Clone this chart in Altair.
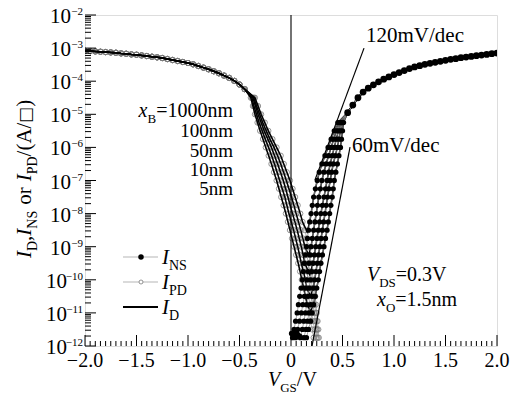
import math
import altair as alt
import pandas as pd

# ---------------- data (log10 of current density, A/□) ----------------
XB_LIST = ["1000nm", "100nm", "50nm", "10nm", "5nm"]

# hole current I_PD, common part (Vgs <= -0.45)
PD_HI_VGS = [-2.00, -1.95, -1.90, -1.85, -1.80, -1.75, -1.70, -1.65, -1.60, -1.55,
             -1.50, -1.45, -1.40, -1.35, -1.30, -1.25, -1.20, -1.15, -1.10, -1.05,
             -1.00, -0.95, -0.90, -0.85, -0.80, -0.75, -0.70, -0.65, -0.60, -0.55,
             -0.50, -0.45]
PD_HI_LOG = [-3.08, -3.09, -3.10, -3.11, -3.12, -3.13, -3.14, -3.16, -3.17, -3.19,
             -3.20, -3.22, -3.24, -3.26, -3.28, -3.30, -3.33, -3.36, -3.39, -3.42,
             -3.45, -3.49, -3.54, -3.59, -3.64, -3.70, -3.76, -3.83, -3.90, -3.99,
             -4.10, -4.24]

# electron current I_NS, common part (Vgs >= 0.55)
NS_HI_VGS = [0.55, 0.60, 0.65, 0.70, 0.75, 0.80, 0.85, 0.90, 0.95, 1.00,
             1.05, 1.10, 1.15, 1.20, 1.25, 1.30, 1.35, 1.40, 1.45, 1.50,
             1.55, 1.60, 1.65, 1.70, 1.75, 1.80, 1.85, 1.90, 1.95, 2.00]
NS_HI_LOG = [-4.95, -4.72, -4.50, -4.33, -4.21, -4.11, -4.02, -3.94, -3.87, -3.80,
             -3.74, -3.68, -3.62, -3.57, -3.53, -3.49, -3.46, -3.43, -3.40, -3.37,
             -3.34, -3.32, -3.29, -3.27, -3.25, -3.23, -3.21, -3.19, -3.17, -3.15]

# subthreshold I_NS: Vgs read at each current level, one list per x_B
NS_LEVELS = [-5.25, -5.5, -5.75, -6.0, -6.25, -6.5, -6.75, -7.0, -7.25, -7.5,
             -7.75, -8.0, -8.25, -8.5, -8.75, -9.0, -9.25, -9.5, -9.75, -10.0,
             -10.25, -10.5, -10.75, -11.0, -11.25, -11.5, -11.75]
NS_VGS = [
    [0.455, 0.42, 0.39, 0.36, 0.33, 0.30, 0.275, 0.255, 0.237, 0.22, 0.207, 0.195, 0.182, 0.17,
     0.16, 0.15, 0.14, 0.13, 0.12, 0.11, 0.098, 0.085, 0.072, 0.06, 0.045, 0.03, 0.015],
    [0.47, 0.44, 0.415, 0.39, 0.365, 0.34, 0.32, 0.30, 0.285, 0.27, 0.257, 0.245, 0.232, 0.22,
     0.207, 0.195, 0.185, 0.175, 0.165, 0.155, 0.142, 0.13, 0.115, 0.10, 0.083, 0.065, 0.045],
    [0.485, 0.46, 0.44, 0.42, 0.40, 0.38, 0.365, 0.35, 0.335, 0.32, 0.305, 0.29, 0.277, 0.265,
     0.252, 0.24, 0.227, 0.215, 0.202, 0.19, 0.178, 0.165, 0.152, 0.14, 0.125, 0.11, 0.09],
    [0.50, 0.48, 0.465, 0.45, 0.43, 0.41, 0.395, 0.38, 0.367, 0.355, 0.342, 0.33, 0.317, 0.305,
     0.292, 0.28, 0.267, 0.255, 0.242, 0.23, 0.217, 0.205, 0.19, 0.175, 0.16, 0.145, 0.125],
    [0.51, 0.50, 0.49, 0.48, 0.465, 0.45, 0.435, 0.42, 0.41, 0.40, 0.387, 0.375, 0.362, 0.35,
     0.335, 0.32, 0.305, 0.29, 0.277, 0.265, 0.25, 0.235, 0.22, 0.205, 0.19, 0.17, 0.15],
]

# subthreshold I_PD
PD_LEVELS = [-4.5, -4.75, -5.0, -5.25, -5.5, -5.75, -6.0, -6.25, -6.5, -6.75,
             -7.0, -7.25, -7.5, -7.75, -8.0, -8.25, -8.5, -8.75, -9.0, -9.25,
             -9.5, -9.75, -10.0, -10.25, -10.5, -10.75, -11.0, -11.25, -11.5, -11.75]
PD_VGS = [
    [-0.35, -0.32, -0.29, -0.255, -0.22, -0.18, -0.14, -0.10, -0.07, -0.04, -0.01, 0.015, 0.04,
     0.065, 0.09, 0.112, 0.135, 0.153, 0.17, 0.183, 0.195, 0.205, 0.215, 0.225, 0.235, 0.243,
     0.25, 0.258, 0.265, 0.27],
    [-0.36, -0.335, -0.305, -0.275, -0.24, -0.205, -0.165, -0.13, -0.10, -0.072, -0.045, -0.02,
     0.005, 0.028, 0.05, 0.073, 0.095, 0.115, 0.135, 0.153, 0.17, 0.183, 0.195, 0.208, 0.22,
     0.23, 0.24, 0.248, 0.255, 0.26],
    [-0.37, -0.345, -0.32, -0.29, -0.26, -0.225, -0.19, -0.16, -0.13, -0.102, -0.075, -0.052,
     -0.03, -0.008, 0.015, 0.038, 0.06, 0.08, 0.10, 0.118, 0.135, 0.153, 0.17, 0.185, 0.20,
     0.213, 0.225, 0.235, 0.245, 0.25],
    [-0.38, -0.36, -0.335, -0.31, -0.28, -0.25, -0.218, -0.188, -0.16, -0.135, -0.11, -0.085,
     -0.06, -0.04, -0.02, 0.003, 0.025, 0.045, 0.065, 0.083, 0.10, 0.12, 0.14, 0.155, 0.17,
     0.185, 0.20, 0.215, 0.23, 0.24],
    [-0.39, -0.37, -0.35, -0.325, -0.30, -0.272, -0.245, -0.217, -0.19, -0.165, -0.14, -0.117,
     -0.095, -0.072, -0.05, -0.03, -0.01, 0.01, 0.03, 0.05, 0.07, 0.088, 0.105, 0.123, 0.14,
     0.158, 0.175, 0.19, 0.205, 0.22],
]

# minimum of the total current I_D for each x_B
ID_MIN_VGS = [0.157, 0.172, 0.182, 0.188, 0.19]
ID_MIN_LOG = [-8.55, -9.25, -9.85, -10.5, -10.95]

# noise floor of I_NS near Vgs = 0 and the vertical jump at Vgs = 0
NS_FLOOR_VGS = [0.005, 0.025, 0.045, 0.065, 0.085]
NS_FLOOR_LOG = [-11.62, -11.66, -11.60, -11.65, -11.70]
VLINE_VGS = [0.0, 0.0]
VLINE_LOG = [-11.65, -2.0]

# slope guide lines
S120_VGS = [0.233, 0.709]
S120_LOG = [-6.98, -3.0]
S60_VGS = [0.204, 0.573]
S60_LOG = [-12.0, -5.99]

# axes
X_TICKS = [-2.0, -1.5, -1.0, -0.5, 0.0, 0.5, 1.0, 1.5, 2.0]
X_TICK_LABELS = ["\u22122.0", "\u22121.5", "\u22121.0", "\u22120.5", "0", "0.5", "1.0", "1.5", "2.0"]
Y_EXPS = [-2, -3, -4, -5, -6, -7, -8, -9, -10, -11, -12]

# ---------------- layout ----------------
FONT = "Liberation Serif"
BOX_FONT = "DejaVu Sans"
X0, Y0 = 85, 15
W, H = 412, 331

EM = {'I': 0.333, 'D': 0.722, 'N': 0.722, 'S': 0.556, 'P': 0.556, 'G': 0.722, 'V': 0.722,
      'O': 0.722, 'B': 0.667, 'x': 0.5, ',': 0.25, ' ': 0.25, 'o': 0.5, 'r': 0.333,
      '/': 0.278, '(': 0.333, ')': 0.333, 'A': 0.722, '\u25a1': 0.75, '=': 0.564, '.': 0.25,
      'n': 0.5, 'm': 0.778, 'e': 0.444, 'd': 0.5, 'c': 0.444}
EM_IT = {'V': 0.611, 'x': 0.444, 'I': 0.333}


def width(s, size, italic):
    w = 0.0
    for ch in s:
        if italic and ch in EM_IT:
            w += EM_IT[ch]
        elif ch.isdigit():
            w += 0.5
        else:
            w += EM.get(ch, 0.5)
    return w * size


one = pd.DataFrame({"v": [0]})


def txt(s, x, y, size, italic=False, align="left", baseline="alphabetic", angle=0, font=FONT):
    kw = dict(font=font, fontSize=size, align=align, baseline=baseline, color="black")
    if italic:
        kw["fontStyle"] = "italic"
    if angle:
        kw["angle"] = angle
    return alt.Chart(one).mark_text(**kw).encode(
        x=alt.value(x - X0), y=alt.value(y - Y0), text=alt.value(s))


def rich(pieces, x, y, size=20, sub=13, angle=0, right=False):
    """pieces: (text, kind); kind 'i' italic, 'n' normal, 's' subscript, 'b' box glyph,
    'g' gap (text = px)."""
    def adv(t, k):
        if k == "g":
            return float(t)
        return width(t, sub if k == "s" else size, k == "i")

    def fsz(k):
        return sub if k == "s" else (size * 0.8 if k == "b" else size)

    total = sum(adv(t, k) for t, k in pieces)
    out = []
    drop = 0.3 * size
    if angle == 270:
        cur = y
        for t, k in pieces:
            if k != "g":
                out.append(txt(t, x + (drop if k == "s" else 0), cur, fsz(k), italic=(k == "i"),
                               angle=270, font=BOX_FONT if k == "b" else FONT))
            cur -= adv(t, k)
        return out
    cur = (x - total) if right else x
    for t, k in pieces:
        if k != "g":
            out.append(txt(t, cur, y + (drop if k == "s" else 0), fsz(k), italic=(k == "i"),
                           font=BOX_FONT if k == "b" else FONT))
        cur += adv(t, k)
    return out


# ---------------- build tables ----------------
xs = alt.Scale(domain=[-2, 2], nice=False, zero=False)
ys = alt.Scale(domain=[-12, -2], nice=False, zero=False)


def X():
    return alt.X("vgs:Q", scale=xs, axis=None)


def Y():
    return alt.Y("lg:Q", scale=ys, axis=None)


ns_rows, pd_rows, id_rows = [], [], []
for k, xb in enumerate(XB_LIST):
    o = 0
    for v, l in list(zip(NS_VGS[k], NS_LEVELS))[::-1]:
        ns_rows.append(dict(curve=xb, vgs=v, lg=l, o=o, part="low")); o += 1
    for v, l in zip(NS_HI_VGS, NS_HI_LOG):
        ns_rows.append(dict(curve=xb, vgs=v, lg=l, o=o, part="high")); o += 1
    o = 0
    for v, l in zip(PD_HI_VGS, PD_HI_LOG):
        pd_rows.append(dict(curve=xb, vgs=v, lg=l, o=o)); o += 1
    for v, l in zip(PD_VGS[k], PD_LEVELS):
        pd_rows.append(dict(curve=xb, vgs=v, lg=l, o=o)); o += 1
    pts = list(zip(PD_HI_VGS, PD_HI_LOG))
    pts += [(v, l) for v, l in zip(PD_VGS[k], PD_LEVELS) if l > ID_MIN_LOG[k] + 0.15]
    pts += [(ID_MIN_VGS[k], ID_MIN_LOG[k])]
    pts += [(v, l) for v, l in list(zip(NS_VGS[k], NS_LEVELS))[::-1] if l > ID_MIN_LOG[k] + 0.15]
    pts += list(zip(NS_HI_VGS, NS_HI_LOG))
    for i, (v, l) in enumerate(pts):
        id_rows.append(dict(curve=xb, vgs=v, lg=l, o=i))

ns_df = pd.DataFrame(ns_rows)
pd_df = pd.DataFrame(pd_rows)
id_df = pd.DataFrame(id_rows)
floor_df = pd.DataFrame({"vgs": NS_FLOOR_VGS, "lg": NS_FLOOR_LOG})
vline_df = pd.DataFrame({"vgs": VLINE_VGS, "lg": VLINE_LOG})
s120_df = pd.DataFrame({"vgs": S120_VGS, "lg": S120_LOG})
s60_df = pd.DataFrame({"vgs": S60_VGS, "lg": S60_LOG})

layers = []

# I_PD: gray line + open circles
layers.append(alt.Chart(pd_df).mark_line(clip=True, color="#a0a0a0", strokeWidth=0.8).encode(
    X(), Y(), detail="curve:N", order="o:Q"))
layers.append(alt.Chart(pd_df).mark_point(clip=True, filled=False, color="#7a7a7a", size=28,
                                           strokeWidth=0.8, opacity=1).encode(X(), Y()))
# I_D: solid black
layers.append(alt.Chart(id_df).mark_line(clip=True, color="black", strokeWidth=1.5).encode(
    X(), Y(), detail="curve:N", order="o:Q"))
layers.append(alt.Chart(vline_df).mark_line(clip=True, color="black", strokeWidth=1.1).encode(X(), Y()))
# I_NS: gray line + filled dots
layers.append(alt.Chart(ns_df).mark_line(clip=True, color="#909090", strokeWidth=0.8).encode(
    X(), Y(), detail="curve:N", order="o:Q"))
layers.append(alt.Chart(ns_df[ns_df.part == "low"]).mark_point(
    clip=True, filled=True, color="black", size=28, opacity=1).encode(X(), Y()))
layers.append(alt.Chart(ns_df[(ns_df.part == "high") & (ns_df.curve == XB_LIST[0])]).mark_point(
    clip=True, filled=True, color="black", size=46, opacity=1).encode(X(), Y()))
layers.append(alt.Chart(floor_df).mark_line(clip=True, color="#909090", strokeWidth=0.8).encode(X(), Y()))
layers.append(alt.Chart(floor_df).mark_point(clip=True, filled=True, color="black", size=28,
                                              opacity=1).encode(X(), Y()))
# slope guides
layers.append(alt.Chart(s120_df).mark_line(clip=True, color="black", strokeWidth=1.2).encode(X(), Y()))
layers.append(alt.Chart(s60_df).mark_line(clip=True, color="black", strokeWidth=1.2).encode(X(), Y()))

# ---------------- ticks (inward) ----------------
x_minor = [round(-2 + 0.05 * i, 2) for i in range(81) if i % 10 != 0]
y_minor = [d + math.log10(m) for d in range(-12, -2) for m in range(2, 10)]
layers.append(alt.Chart(pd.DataFrame({"vgs": X_TICKS})).mark_rule(color="black", strokeWidth=1).encode(
    x=X(), y=alt.value(H), y2=alt.value(H - 11)))
layers.append(alt.Chart(pd.DataFrame({"vgs": x_minor})).mark_rule(color="black", strokeWidth=1).encode(
    x=X(), y=alt.value(H), y2=alt.value(H - 5)))
layers.append(alt.Chart(pd.DataFrame({"lg": Y_EXPS})).mark_rule(color="black", strokeWidth=1).encode(
    y=Y(), x=alt.value(0), x2=alt.value(11)))
layers.append(alt.Chart(pd.DataFrame({"lg": y_minor})).mark_rule(color="black", strokeWidth=1).encode(
    y=Y(), x=alt.value(0), x2=alt.value(6)))

# ---------------- tick labels ----------------
layers.append(alt.Chart(pd.DataFrame({"vgs": X_TICKS, "lab": X_TICK_LABELS})).mark_text(
    font=FONT, fontSize=20, align="center", baseline="alphabetic", color="black").encode(
    x=X(), y=alt.value(367 - Y0), text="lab:N"))

ylab = pd.DataFrame({"lg": Y_EXPS, "sup": ["\u2212" + str(-e) for e in Y_EXPS]})
short = ylab[ylab.lg > -10]
longl = ylab[ylab.lg <= -10]
layers.append(alt.Chart(short).mark_text(font=FONT, fontSize=21, align="right", baseline="alphabetic",
                                         dy=8, color="black").encode(
    y=Y(), x=alt.value(71 - X0), text=alt.value("10")))
layers.append(alt.Chart(longl).mark_text(font=FONT, fontSize=21, align="right", baseline="alphabetic",
                                         dy=8, color="black").encode(
    y=Y(), x=alt.value(67 - X0), text=alt.value("10")))
layers.append(alt.Chart(ylab).mark_text(font=FONT, fontSize=11, align="right", baseline="alphabetic",
                                        dy=0, color="black").encode(
    y=Y(), x=alt.value(83 - X0), text="sup:N"))

# ---------------- titles ----------------
layers += rich([("I", "i"), ("D", "s"), (",", "n"), ("I", "i"), ("NS", "s"), ("6", "g"), ("or", "n"),
                ("6", "g"), ("I", "i"), ("PD", "s"), ("/(A/", "n"), ("\u25a1", "b"), (")", "n")],
               31, 258, size=21, sub=14, angle=270)
layers += rich([("V", "i"), ("GS", "s"), ("/V", "n")], 268, 386, size=20, sub=13)

# ---------------- annotations ----------------
layers += rich([("x", "i"), ("B", "s"), ("=1000nm", "n")], 233, 117, size=20, sub=13, right=True)
for lab, yb in zip(XB_LIST[1:], [137, 157, 176, 195]):
    layers.append(txt(lab, 233, yb, 19, align="right"))
layers.append(txt("120mV/dec", 366, 42, 21))
layers.append(txt("60mV/dec", 352, 152, 21))
layers += rich([("V", "i"), ("DS", "s"), ("=0.3V", "n")], 367, 281, size=20, sub=13)
layers += rich([("x", "i"), ("O", "s"), ("=1.5nm", "n")], 377, 306, size=20, sub=13)

# ---------------- legend ----------------
for yc, col, wdt in [(257, "#b5b5b5", 1), (282, "#b5b5b5", 1), (307, "black", 2)]:
    layers.append(alt.Chart(one).mark_rule(color=col, strokeWidth=wdt).encode(
        x=alt.value(123 - X0), x2=alt.value(158 - X0), y=alt.value(yc - Y0)))
layers.append(alt.Chart(one).mark_point(filled=True, color="black", size=30, opacity=1).encode(
    x=alt.value(141 - X0), y=alt.value(257 - Y0)))
layers.append(alt.Chart(one).mark_point(filled=True, fill="white", stroke="#7a7a7a", strokeWidth=0.8,
                                        size=16, opacity=1).encode(
    x=alt.value(141 - X0), y=alt.value(282 - Y0)))
layers += rich([("I", "i"), ("NS", "s")], 162, 264, size=21, sub=14)
layers += rich([("I", "i"), ("PD", "s")], 162, 289, size=21, sub=14)
layers += rich([("I", "i"), ("D", "s")], 162, 314, size=21, sub=14)

chart = alt.layer(*layers).properties(
    width=W, height=H,
    autosize=alt.AutoSizeParams(type="none"),
    padding={"left": X0, "top": Y0, "right": 511 - X0 - W, "bottom": 397 - Y0 - H},
).configure_view(stroke="black", strokeWidth=1.6).configure(background="white")

chart.save("out.html", embed_options={"renderer": "svg", "actions": False})
